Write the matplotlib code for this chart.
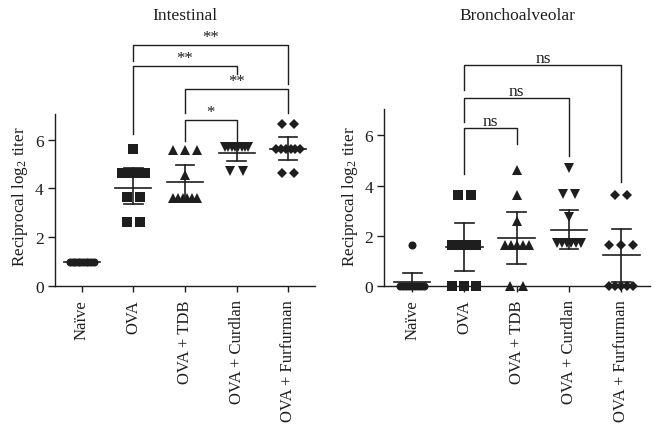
import numpy as np
import matplotlib.pyplot as plt

plt.rcParams['font.family'] = ['Liberation Serif', 'DejaVu Serif']
plt.rcParams['mathtext.default'] = 'regular'

groups = ['Naïve', 'OVA', 'OVA + TDB', 'OVA + Curdlan', 'OVA + Furfurman']
markers = ['o', 's', '^', 'v', 'D']
msizes = [5.8, 6.5, 6.5, 6.5, 5.6]

# Intestinal - individual reciprocal log2 titers
int_naive = [1.0] * 10
int_ova = [5.63, 4.65, 4.65, 4.65, 4.65, 4.65, 3.64, 3.64, 2.62, 2.62]
int_tdb = [5.59, 5.59, 5.59, 4.56, 3.62, 3.62, 3.62, 3.62, 3.62, 3.62]
int_curdlan = [5.7, 5.7, 5.7, 5.7, 5.7, 5.7, 5.7, 5.7, 4.7, 4.7]
int_furfurman = [6.64, 6.64, 5.6, 5.6, 5.6, 5.6, 5.6, 5.6, 4.65, 4.65]
int_mean = [1.0, 4.03, 4.26, 5.45, 5.61]
int_hi = [1.0, 4.84, 4.95, 5.78, 6.11]
int_lo = [1.0, 3.36, 3.57, 5.12, 5.15]

# Bronchoalveolar
br_naive = [1.65, 0, 0, 0, 0, 0, 0, 0, 0, 0]
br_ova = [3.64, 3.64, 1.65, 1.65, 1.65, 1.65, 1.65, 0, 0, 0]
br_tdb = [4.63, 3.61, 2.59, 1.65, 1.65, 1.65, 1.65, 1.65, 0, 0]
br_curdlan = [4.7, 3.66, 3.66, 2.75, 1.73, 1.73, 1.73, 1.73, 1.73, 1.73]
br_furfurman = [3.64, 3.64, 1.65, 1.65, 1.65, 0, 0, 0, 0, 0]
br_mean = [0.17, 1.57, 1.92, 2.25, 1.23]
br_hi = [0.53, 2.52, 2.95, 3.04, 2.28]
br_lo = [-0.2, 0.61, 0.89, 1.46, 0.18]

# significance brackets: (from, to, height, left leg end, right leg end, label)
int_brackets = [(1, 4, 9.86, 9.21, 8.26, '**'),
                (1, 3, 9.0, 6.25, 8.67, '**'),
                (2, 4, 8.06, 7.07, 7.07, '**'),
                (2, 3, 6.82, 5.96, 5.96, '*')]
br_brackets = [(1, 4, 8.82, 7.82, 4.16, 'ns'),
               (1, 3, 7.50, 6.55, 5.19, 'ns'),
               (1, 2, 6.31, 4.47, 5.67, 'ns')]

col = '#1e1e1e'


def spread(vals, step=0.24, span=0.46):
    # spread identical values sideways like a column scatter
    vals = np.asarray(vals, dtype=float)
    offs = np.zeros(len(vals))
    for v in np.unique(vals):
        idx = np.where(vals == v)[0]
        k = len(idx)
        w = min((k - 1) * step, span)
        offs[idx] = np.linspace(-w / 2, w / 2, k)
    return offs


def panel(ax, data, mean, lo, hi, brackets, title, ytop, xlim, lab_off, ylab_x):
    for i, vals in enumerate(data):
        x = i + spread(vals)
        ax.plot(x, vals, linestyle='none', marker=markers[i], ms=msizes[i],
                color=col, mew=0, clip_on=False, zorder=3)
        ax.plot([i - 0.35, i + 0.35], [mean[i], mean[i]], color=col, lw=1.2, zorder=4)
        if hi[i] != lo[i]:
            ax.plot([i, i], [lo[i], hi[i]], color=col, lw=1.2, zorder=4)
            for y in (lo[i], hi[i]):
                ax.plot([i - 0.18, i + 0.18], [y, y], color=col, lw=1.2, zorder=4)
    for a, b, h, l1, l2, lab in brackets:
        ax.plot([a, a, b, b], [l1, h, h, l2], color=col, lw=1.0, clip_on=False)
        ax.text((a + b) / 2, h + lab_off, lab, ha='center', va='center',
                fontsize=12 if lab != 'ns' else 12.5, color=col)
    ax.set_xlim(*xlim)
    ax.set_ylim(0, ytop)
    ax.spines['top'].set_visible(False)
    ax.spines['right'].set_visible(False)
    ax.spines['left'].set_bounds(0, 7.05)
    for s in ('left', 'bottom'):
        ax.spines[s].set_linewidth(1.0)
        ax.spines[s].set_color(col)
    ax.set_yticks([0, 2, 4, 6])
    ax.set_xticks(range(5))
    ax.set_xticklabels(groups, rotation=90, fontsize=12)
    ax.tick_params(axis='y', labelsize=12.5, length=5, width=1.0, pad=3, colors=col)
    ax.tick_params(axis='x', length=4.5, width=1.0, pad=5, colors=col)
    ax.set_ylabel('Reciprocal log$_{2}$ titer', fontsize=12.3, color=col)
    ax.yaxis.set_label_coords(ylab_x, 0.35)
    ax.text(0.5, 1.054, title, transform=ax.transAxes, ha='center', va='center',
            fontsize=12.5, color=col)


fig = plt.figure(figsize=(6.6, 4.35), dpi=100)
ax1 = fig.add_axes([0.0833, 0.340, 0.394, 0.591])
ax2 = fig.add_axes([0.5818, 0.340, 0.403, 0.591])

panel(ax1, [int_naive, int_ova, int_tdb, int_curdlan, int_furfurman],
      int_mean, int_lo, int_hi, int_brackets, 'Intestinal', 10.53,
      (-0.52, 4.52), 0.33, -0.095)
panel(ax2, [br_naive, br_ova, br_tdb, br_curdlan, br_furfurman],
      br_mean, br_lo, br_hi, br_brackets, 'Bronchoalveolar', 10.24,
      (-0.54, 4.55), 0.28, -0.09)

fig.savefig('out.png', dpi=100)
